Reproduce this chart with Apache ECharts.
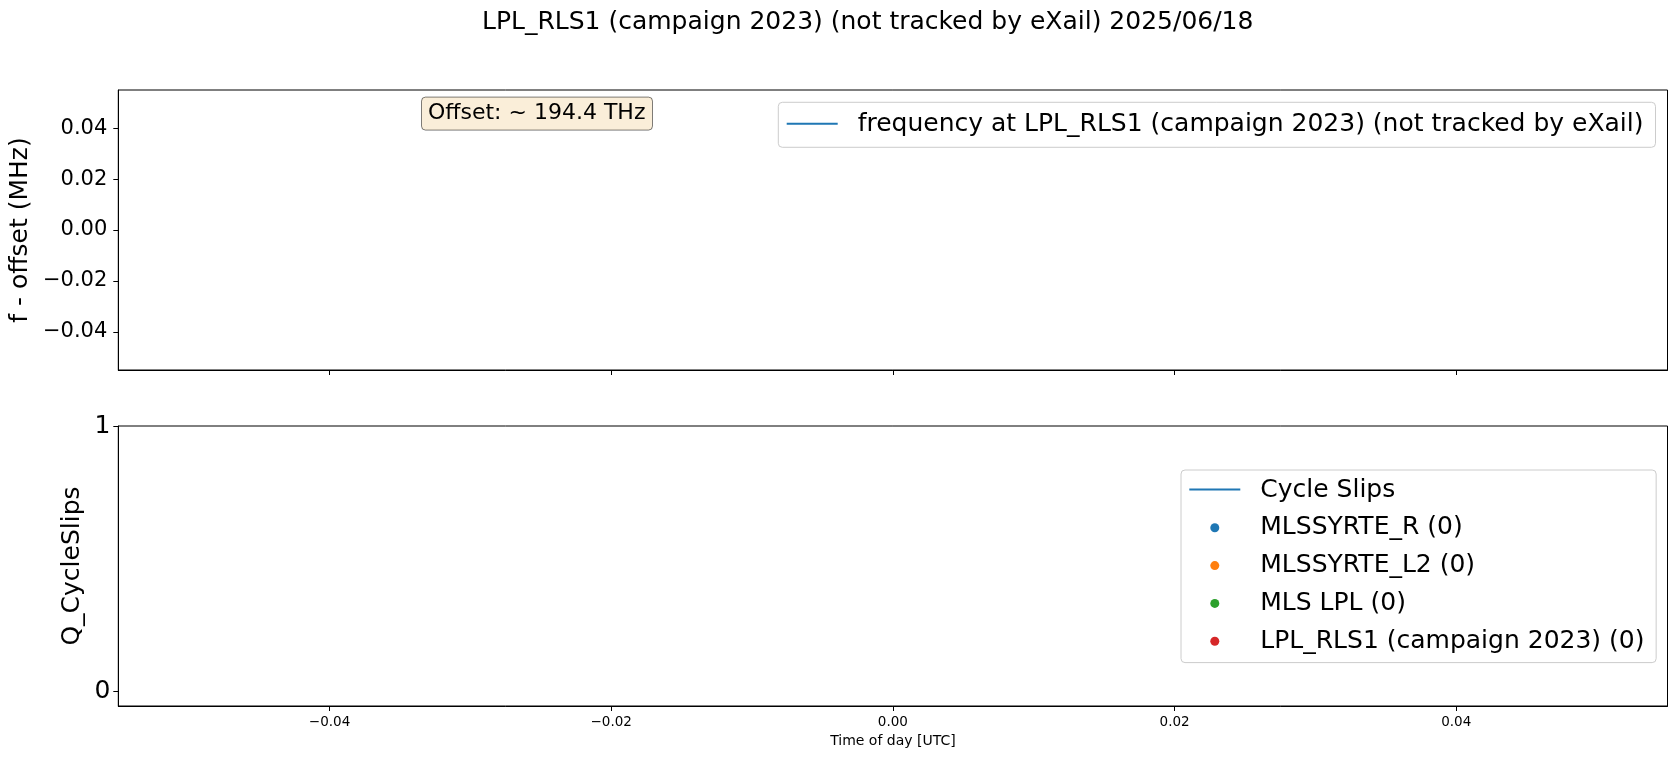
<!DOCTYPE html>
<html>
<head>
<meta charset="utf-8">
<script src="https://cdn.jsdelivr.net/npm/echarts@6/dist/echarts.min.js"></script>
<style>
html,body{margin:0;padding:0;background:#fff;}
#chart{width:1677px;height:759px;}
</style>
</head>
<body>
<div id="chart"></div>
<script>
// ---- data (the reference plot contains no data points) ----
const chartTitle = 'LPL_RLS1 (campaign 2023) (not tracked by eXail) 2025/06/18';
const offsetText = 'Offset: ~ 194.4 THz';
const freqSeriesName = 'frequency at LPL_RLS1 (campaign 2023) (not tracked by eXail)';
const freqData = [];           // [time, f - offset] pairs
const cycleSlipName = 'Cycle Slips';
const cycleSlipData = [];
const slipSeriesNames = ['MLSSYRTE_R (0)', 'MLSSYRTE_L2 (0)', 'MLS LPL (0)', 'LPL_RLS1 (campaign 2023) (0)'];
const slipSeriesData = [[], [], [], []];
const slipColors = ['#1f77b4', '#ff7f0e', '#2ca02c', '#d62728'];
const xTicks = [-0.04, -0.02, 0.0, 0.02, 0.04];
const xRange = [-0.055, 0.055];
const yTopTicks = [-0.04, -0.02, 0.0, 0.02, 0.04];
const yTopRange = [-0.055, 0.055];
const yBottomTicks = [0, 1];
const yBottomRange = [-0.055, 1];

const FONT = 'DejaVu Sans';
const chart = echarts.init(document.getElementById('chart'), null, {renderer: 'canvas'});

const fmt2 = v => (v < 0 ? '\u2212' : '') + Math.abs(v).toFixed(2);
// legend handle for line series: thin horizontal stripe inside a 51x9 box
const LINE_ICON = 'path://M0,0L0.01,0L0.01,0.01L0,0.01Z M0,3L51,3L51,5L0,5Z M50.99,8.99L51,8.99L51,9L50.99,9Z';

const series = [
  {name: freqSeriesName, type: 'line', xAxisIndex: 0, yAxisIndex: 0, data: freqData,
   symbol: 'none', color: '#1f77b4', lineStyle: {width: 2}},
  {name: cycleSlipName, type: 'line', xAxisIndex: 1, yAxisIndex: 1, data: cycleSlipData,
   symbol: 'none', color: '#1f77b4', lineStyle: {width: 2}}
];
slipSeriesNames.forEach((n, i) => {
  series.push({name: n, type: 'scatter', xAxisIndex: 1, yAxisIndex: 1, data: slipSeriesData[i],
    symbol: 'circle', symbolSize: 9, color: slipColors[i], itemStyle: {opacity: 1}});
});

const axisCommon = {
  axisLine: {show: true, onZero: false, lineStyle: {color: '#000', width: 1}},
  axisTick: {show: true, inside: false, length: 5, lineStyle: {color: '#000', width: 1}},
  splitLine: {show: false},
  nameMoveOverlap: false
};

const legendBox = {
  orient: 'vertical', itemWidth: 51, itemHeight: 9,
  backgroundColor: 'rgba(255,255,255,0.8)', borderColor: '#cccccc', borderWidth: 1, borderRadius: 4,
  textStyle: {fontFamily: FONT, fontSize: 25, color: '#000', lineHeight: 28, padding: [0, 0, 0, 15]}
};

const option = {
  backgroundColor: '#fff',
  animation: false,
  title: [
    {text: chartTitle, left: 482, top: 7, padding: 0,
     textStyle: {fontFamily: FONT, fontSize: 25, fontWeight: 'normal', color: '#000', lineHeight: 30}},
    {text: offsetText, left: 421, top: 97.3, padding: [5.3, 7, 5.3, 7],
     backgroundColor: 'rgba(245,222,179,0.5)', borderColor: 'rgba(0,0,0,0.5)', borderWidth: 1, borderRadius: 4,
     textStyle: {fontFamily: FONT, fontSize: 22, fontWeight: 'normal', color: '#000', lineHeight: 22}}
  ],
  grid: [
    {left: 118.3, top: 90, width: 1549.2, height: 280, show: true, borderColor: '#000', borderWidth: 1,
     backgroundColor: 'transparent', outerBoundsMode: 'none', containLabel: false},
    {left: 118.3, top: 426, width: 1549.2, height: 280, show: true, borderColor: '#000', borderWidth: 1,
     backgroundColor: 'transparent', outerBoundsMode: 'none', containLabel: false}
  ],
  xAxis: [
    Object.assign({}, axisCommon, {type: 'value', gridIndex: 0, min: xRange[0], max: xRange[1],
      axisTick: Object.assign({}, axisCommon.axisTick, {customValues: xTicks}),
      axisLabel: {show: false, customValues: xTicks}}),
    Object.assign({}, axisCommon, {type: 'value', gridIndex: 1, min: xRange[0], max: xRange[1],
      axisTick: Object.assign({}, axisCommon.axisTick, {customValues: xTicks}),
      axisLabel: {show: true, customValues: xTicks, formatter: fmt2, fontFamily: FONT, fontSize: 13.5, color: '#000', margin: 9},
      name: 'Time of day [UTC]', nameLocation: 'middle', nameGap: 28,
      nameTextStyle: {fontFamily: FONT, fontSize: 14, color: '#000'}})
  ],
  yAxis: [
    Object.assign({}, axisCommon, {type: 'value', gridIndex: 0, min: yTopRange[0], max: yTopRange[1],
      axisTick: Object.assign({}, axisCommon.axisTick, {customValues: yTopTicks}),
      axisLabel: {show: true, customValues: yTopTicks, formatter: fmt2, fontFamily: FONT, fontSize: 21, color: '#000', margin: 11},
      name: 'f - offset (MHz)', nameLocation: 'middle', nameRotate: 90, nameGap: 85,
      nameTextStyle: {fontFamily: FONT, fontSize: 25, color: '#000'}}),
    Object.assign({}, axisCommon, {type: 'value', gridIndex: 1, min: yBottomRange[0], max: yBottomRange[1],
      axisTick: Object.assign({}, axisCommon.axisTick, {customValues: yBottomTicks}),
      axisLabel: {show: true, customValues: yBottomTicks, formatter: v => String(v), fontFamily: FONT, fontSize: 25, color: '#000', margin: 8},
      name: 'Q_CycleSlips', nameLocation: 'middle', nameRotate: 90, nameGap: 33,
      nameTextStyle: {fontFamily: FONT, fontSize: 25, color: '#000'}})
  ],
  legend: [
    Object.assign({}, legendBox, {
      data: [{name: freqSeriesName, icon: LINE_ICON}], left: 778.3, top: 102.3,
      itemGap: 10, padding: [8, 12, 9, 8.4]}),
    Object.assign({}, legendBox, {
      data: [{name: cycleSlipName, icon: LINE_ICON}].concat(slipSeriesNames.map(n => ({name: n, icon: 'circle'}))),
      left: 1181, top: 470, itemGap: 9.8, padding: [6, 11.7, 7.4, 8.3]})
  ],
  series: series
};
chart.setOption(option);
</script>
</body>
</html>
